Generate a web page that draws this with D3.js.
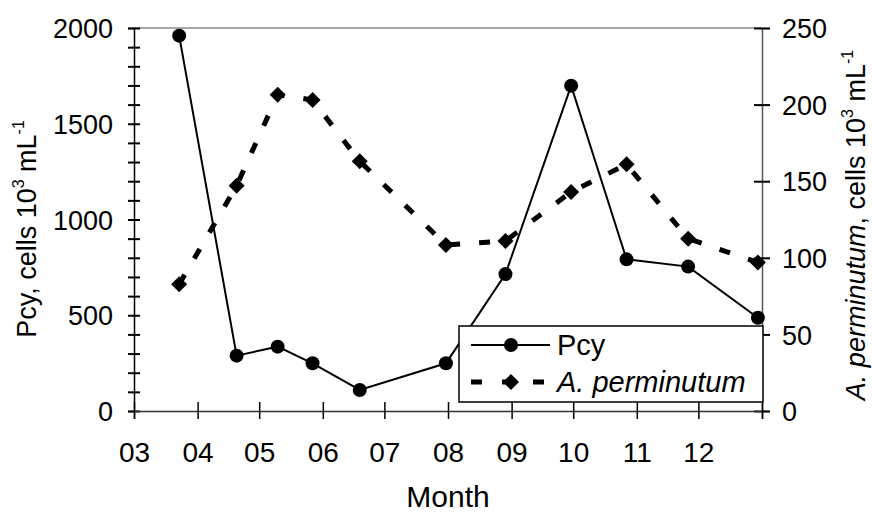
<!DOCTYPE html>
<html><head><meta charset="utf-8">
<script src="https://cdn.jsdelivr.net/npm/d3@7/dist/d3.min.js"></script>
<style>
body{margin:0;background:#fff;}
svg text{font-family:"Liberation Sans",Arial,sans-serif;fill:#000;}
</style></head>
<body><svg id="c" width="872" height="513"></svg>
<script>
const dates = ["2001-03-23","2001-04-20","2001-05-10","2001-05-27","2001-06-19","2001-07-31","2001-08-29","2001-09-30","2001-10-27","2001-11-26","2001-12-30"];
const pcy = [1960, 289, 336, 249, 110, 249, 715, 1699, 792, 754, 487];
const aperm = [82.7, 147, 206.5, 203, 163, 108.4, 111, 143, 161, 112.5, 97];
const monthTicks = ["2001-03-01","2001-04-01","2001-05-01","2001-06-01","2001-07-01","2001-08-01","2001-09-01","2001-10-01","2001-11-01","2001-12-01","2002-01-01"];
const monthLabels = ["03","04","05","06","07","08","09","10","11","12",""];
const leftTicks = [0,500,1000,1500,2000];
const rightTicks = [0,50,100,150,200,250];

const parse = d3.timeParse("%Y-%m-%d");
const svg = d3.select("#c");
const L=134, R=762, T=28, B=411;
const x = d3.scaleTime().domain([parse("2001-03-01"), parse("2002-01-01")]).range([L,R]);
const yL = d3.scaleLinear().domain([0,2000]).range([B,T]);
const yR = d3.scaleLinear().domain([0,250]).range([B,T]);
const FS = 27;
const FF = "Liberation Sans, Arial, sans-serif";

// top border
svg.append("line").attr("x1",L).attr("x2",R).attr("y1",T).attr("y2",T).attr("stroke","#8a8a8a").attr("stroke-width",1.5);

// left axis minor ticks
const gLm = svg.append("g").attr("transform",`translate(${L},0)`)
  .call(d3.axisLeft(yL).tickValues(d3.range(0,2001,100)).tickSize(6).tickFormat(""));
gLm.selectAll(".tick line").attr("x2",-6).attr("x1",6).attr("stroke","#000").attr("stroke-width",2);
gLm.select(".domain").attr("stroke","#000").attr("stroke-width",1.5);
const gL = svg.append("g").attr("transform",`translate(${L},0)`)
  .call(d3.axisLeft(yL).tickValues(leftTicks).tickSize(0).tickPadding(21).tickFormat(d3.format("d")));
gL.select(".domain").remove();
gL.selectAll("text").attr("font-size",FS).attr("font-family",FF).attr("dy","0.36em");

// right axis
const gR = svg.append("g").attr("transform",`translate(${R},0)`)
  .call(d3.axisRight(yR).tickValues(rightTicks).tickSize(8).tickPadding(12));
gR.selectAll(".tick line").attr("x1",-8).attr("stroke","#000").attr("stroke-width",2);
gR.select(".domain").attr("stroke","#555").attr("stroke-width",1.5);
gR.selectAll("text").attr("font-size",FS).attr("font-family",FF).attr("dy","0.36em");

// bottom axis
const gB = svg.append("g").attr("transform",`translate(0,${B})`)
  .call(d3.axisBottom(x).tickValues(monthTicks.map(parse)).tickSize(8)
    .tickFormat((d,i)=>monthLabels[i]));
gB.selectAll(".tick line").attr("y1",-9).attr("stroke","#000").attr("stroke-width",1.5);
gB.select(".domain").attr("stroke","#333").attr("stroke-width",1.5);
gB.selectAll("text").attr("font-size",28).attr("font-family",FF).attr("y",51).attr("dy","0");

// axis titles
svg.append("text").attr("x",448).attr("y",507).attr("text-anchor","middle").attr("font-size",30).text("Month");

const TS = 27, SS = 16;
const tl = svg.append("text").attr("transform","translate(36,229) rotate(-90)").attr("text-anchor","middle").attr("font-size",TS);
tl.append("tspan").text("Pcy, cells 10");
tl.append("tspan").attr("font-size",SS).attr("dy",-12).text("3");
tl.append("tspan").attr("dy",12).text(" mL");
tl.append("tspan").attr("font-size",SS).attr("dy",-12).text("-1");

const tr = svg.append("text").attr("transform","translate(865,225) rotate(-90)").attr("text-anchor","middle").attr("font-size",TS);
tr.append("tspan").attr("font-style","italic").text("A. perminutum");
tr.append("tspan").text(", cells 10");
tr.append("tspan").attr("font-size",SS).attr("dy",-12).text("3");
tr.append("tspan").attr("dy",12).text(" mL");
tr.append("tspan").attr("font-size",SS).attr("dy",-12).text("-1");

const data = dates.map((d,i)=>({d:parse(d), p:pcy[i], a:aperm[i]}));

// A. perminutum dashed line
svg.append("path").datum(data).attr("fill","none").attr("stroke","#000").attr("stroke-width",5)
  .attr("stroke-dasharray","11,19")
  .attr("d", d3.line().x(d=>x(d.d)).y(d=>yR(d.a)));
const sq = d3.symbol().type(d3.symbolSquare).size(128);
svg.selectAll(".dia").data(data).join("path").attr("class","dia")
  .attr("d", sq).attr("transform",d=>`translate(${x(d.d)},${yR(d.a)}) rotate(45)`);

// Pcy line
svg.append("path").datum(data).attr("fill","none").attr("stroke","#000").attr("stroke-width",2)
  .attr("d", d3.line().x(d=>x(d.d)).y(d=>yL(d.p)));
svg.selectAll(".dot").data(data).join("circle").attr("class","dot")
  .attr("cx",d=>x(d.d)).attr("cy",d=>yL(d.p)).attr("r",7).attr("fill","#000");

// legend
const lg = svg.append("g");
lg.append("rect").attr("x",459).attr("y",326).attr("width",304).attr("height",76)
  .attr("fill","#fff").attr("stroke","#000").attr("stroke-width",1.5);
lg.append("line").attr("x1",471).attr("x2",550).attr("y1",345).attr("y2",345).attr("stroke","#000").attr("stroke-width",2);
lg.append("circle").attr("cx",511).attr("cy",345).attr("r",7).attr("fill","#000");
lg.append("line").attr("x1",471).attr("x2",550).attr("y1",382).attr("y2",382).attr("stroke","#000").attr("stroke-width",5).attr("stroke-dasharray","11,20");
lg.append("path").attr("d",sq).attr("transform","translate(511,382) rotate(45)");
lg.append("text").attr("x",557).attr("y",355).attr("font-size",29).text("Pcy");
lg.append("text").attr("x",557).attr("y",392).attr("font-size",29).attr("font-style","italic").text("A. perminutum");
</script></body></html>
